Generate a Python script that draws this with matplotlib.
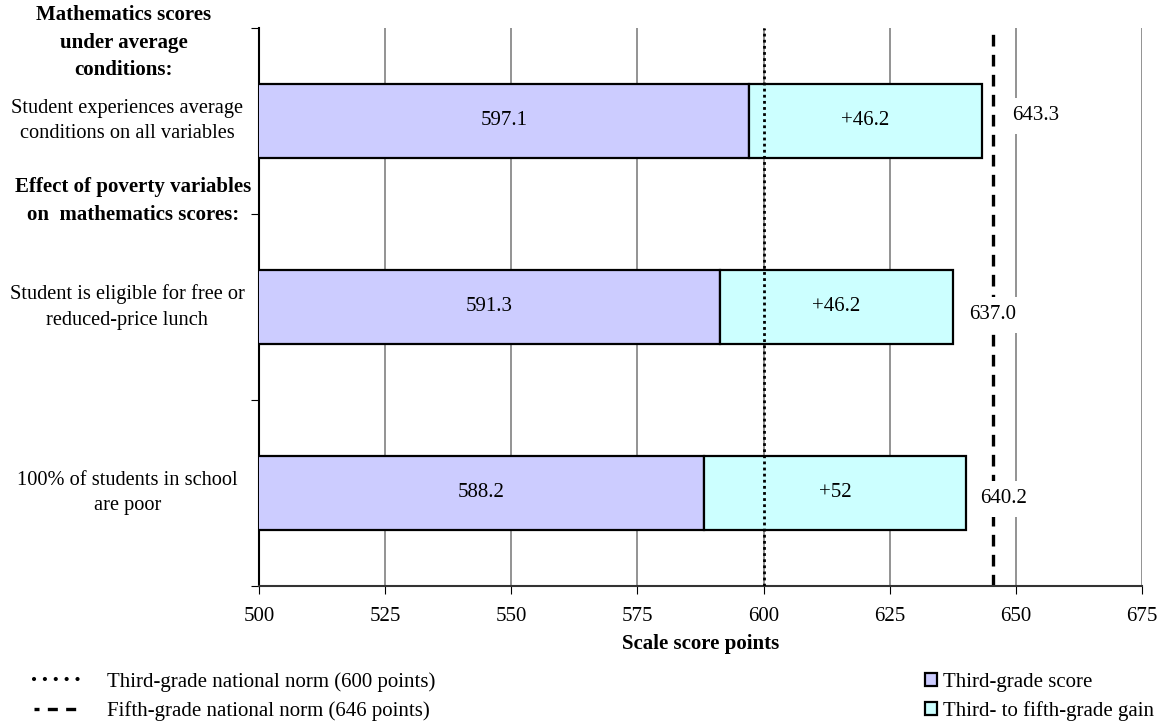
import numpy as np
import matplotlib
matplotlib.use("Agg")
import matplotlib.pyplot as plt
from matplotlib.lines import Line2D
from matplotlib.patches import Patch

# data
categories = ["Student experiences average\nconditions on all variables",
              "Student is eligible for free or\nreduced-price lunch",
              "100% of students in school\nare poor"]
third_grade = [597.1, 591.3, 588.2]
gain = [46.2, 46.2, 52.0]
gain_labels = ["+46.2", "+46.2", "+52"]
total_labels = ["643.3", "637.0", "640.2"]
third_norm = 600
fifth_norm = 645.4
xticks = [500, 525, 550, 575, 600, 625, 650, 675]

plt.rcParams['font.family'] = ['Liberation Serif', 'DejaVu Serif']
plt.rcParams['font.size'] = 15

fig = plt.figure(figsize=(11.63, 7.21), dpi=100)
ax = fig.add_axes([0.2227, 0.1873, 0.7593, 0.7739])

y = np.arange(len(categories))
ax.barh(y, third_grade, left=0, height=0.4, color='#ccccff', edgecolor='black', linewidth=1.6, zorder=3)
ax.barh(y, gain, left=third_grade, height=0.4, color='#ccffff', edgecolor='black', linewidth=1.6, zorder=3)

for i in range(len(categories)):
    ax.text(500 + (third_grade[i] - 500) / 2, y[i], f"{third_grade[i]:.1f}", ha='center', va='center', zorder=4)
    ax.text(third_grade[i] + gain[i] / 2, y[i], gain_labels[i], ha='center', va='center', zorder=4)

# total labels sit right of each bar, white box hides the lines behind
offsets = [(30, 5), (16, -8), (14, -6)]
for i in range(len(categories)):
    end = third_grade[i] + gain[i]
    ax.annotate(total_labels[i], (end, y[i]), xytext=offsets[i], textcoords='offset pixels',
                ha='left', va='center', zorder=2.5,
                bbox=dict(boxstyle='square,pad=0.4', fc='white', ec='none'))

ax.axvline(third_norm, color='black', linestyle=(0, (1, 1.2)), linewidth=2, zorder=4)
ax.axvline(fifth_norm, color='black', linestyle=(0, (3.5, 2.5)), linewidth=2.4, zorder=2)

ax.set_xlim(500, 675)
ax.set_ylim(2.5, -0.5)
ax.set_xticks(xticks)
ax.xaxis.grid(True, color='#808080', linewidth=1.2, zorder=0)
ax.set_axisbelow(True)
ax.tick_params(axis='x', direction='out', length=6, pad=9, colors='black')
ax.set_yticks([-0.5, 0.5, 1.5, 2.5])
ax.set_yticklabels([])
ax.tick_params(axis='y', direction='out', length=6)
for s in ['top', 'right']:
    ax.spines[s].set_visible(False)
ax.spines['left'].set_linewidth(1.5)
ax.spines['bottom'].set_linewidth(1.5)
ax.spines['bottom'].set_color('#333333')
ax.set_xlabel("Scale score points", fontweight='bold', fontsize=15, labelpad=6)

tr = ax.get_yaxis_transform()
for i, c in enumerate(categories):
    ax.text(-0.149, y[i], c, transform=tr, ha='center', va='center', multialignment='center',
            linespacing=1.45, fontsize=14.7, clip_on=False)
ax.text(-0.153, -0.42, "Mathematics scores\nunder average\nconditions:", transform=tr, ha='center',
        va='center', fontweight='bold', linespacing=1.5, clip_on=False)
ax.text(-0.142, 0.43, "Effect of poverty variables\non  mathematics scores:", transform=tr, ha='center',
        va='center', fontweight='bold', linespacing=1.5, clip_on=False)

h1 = [Line2D([], [], color='black', linestyle=(0, (0.01, 2.6)), linewidth=3, dash_capstyle='round'),
      Line2D([], [], color='black', linestyle=(1.5, (3, 2.5)), linewidth=2.4)]
fig.legend(h1, ["Third-grade national norm (600 points)", "Fifth-grade national norm (646 points)"],
           loc='lower left', bbox_to_anchor=(0.013, -0.026), frameon=False,
           handlelength=2.4, handletextpad=1.1, labelspacing=0.45)
h2 = [Patch(facecolor='#ccccff', edgecolor='black', linewidth=1.6),
      Patch(facecolor='#ccffff', edgecolor='black', linewidth=1.6)]
fig.legend(h2, ["Third-grade score", "Third- to fifth-grade gain"],
           loc='lower left', bbox_to_anchor=(0.779, -0.026), frameon=False,
           handlelength=0.6, handleheight=0.6, handletextpad=0.3, labelspacing=0.45)

fig.savefig("out.png", dpi=100)
